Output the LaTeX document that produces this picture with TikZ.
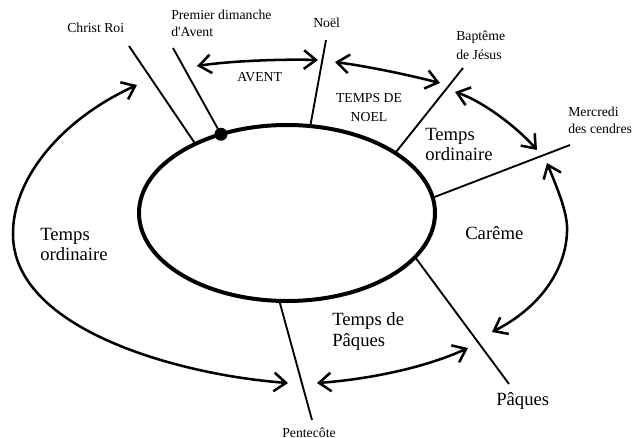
\documentclass[tikz,border=0pt]{standalone}
\usepackage{fontspec}
\setmainfont{Liberation Serif}
\usetikzlibrary{arrows.meta}
\usetikzlibrary{shapes.geometric}

\tikzset{
  borne/.style={line width=1.4pt},
  fleche/.style={line width=1.9pt, {Straight Barb[length=9pt,width=14pt]}-{Straight Barb[length=9pt,width=14pt]}},
  petit/.style={font=\fontsize{10.3}{12.75}\selectfont},
  grand/.style={font=\fontsize{14}{15.3}\selectfont}
}

\begin{document}
\begin{tikzpicture}[x=0.75pt,y=0.75pt,yscale=-1,xscale=1]
\useasboundingbox (0,0) rectangle (634,438);

%Shape: Ellipse
\node [draw, ellipse, line width=3pt, minimum width=222pt, minimum height=132pt, inner sep=0pt, outer sep=0pt] (annee) at (287,213) {};

%Free ends of the boundaries
\coordinate (christ-b) at (129,46);
\coordinate (avent-b) at (173,48);
\coordinate (noel-b) at (326,40);
\coordinate (bapteme-b) at (463,68);
\coordinate (cendres-b) at (570,145);
\coordinate (paques-b) at (509,384);
\coordinate (pentecote-b) at (312,420);

%Straight Lines
\draw [borne] (annee.143) -- (christ-b) ;
\draw [borne] (annee.130) -- (avent-b) ;
\draw [borne] (annee.75) -- (noel-b) ;
\draw [borne] (annee.29) -- (bapteme-b) ;
\draw [borne] (annee.6) -- (cendres-b) ;
\draw [borne] (annee.-19) -- (paques-b) ;
\draw [borne] (annee.-95) -- (pentecote-b) ;
%Shape: Circle
\fill (annee.130) circle [radius=6.5] ;

%Arrow ends
\coordinate (avent-g) at (197,66);
\coordinate (avent-d) at (318,60);
\coordinate (noel-g) at (335,62);
\coordinate (noel-d) at (440,83);
\coordinate (ordi-h) at (455,92);
\coordinate (ordi-b) at (537,150);
\coordinate (careme-h) at (547,163);
\coordinate (careme-b) at (492,332);
\coordinate (pq-g) at (317,383);
\coordinate (pq-d) at (468,348);
\coordinate (ordi2-h) at (137,85);
\coordinate (ordi2-b) at (288,383);

%Curve Lines
\draw [fleche] (avent-g) .. controls (230,61) and (280,59) .. (avent-d) ;
\draw [fleche] (noel-g) .. controls (365,66) and (405,74) .. (noel-d) ;
\draw [fleche] (ordi-h) .. controls (480,100) and (515,125) .. (ordi-b) ;
\draw [fleche] (careme-h) .. controls (560,195) and (568,215) .. (567,232) .. controls (566,265) and (545,305) .. (careme-b) ;
\draw [fleche] (pq-g) .. controls (360,380) and (420,370) .. (pq-d) ;
\draw [fleche] (ordi2-h) .. controls (60,120) and (12,180) .. (13,235) .. controls (14,330) and (180,375) .. (ordi2-b) ;

% Text Node
\draw (67,33) node [anchor=base west][inner sep=0pt][petit] (christ) {Christ Roi};
% Text Node
\draw (171,9.5) node [anchor=north west][inner sep=0pt][petit, align=left] (avent) {Premier dimanche\\d\textquotesingle Avent};
% Text Node
\draw (313,28) node [anchor=base west][inner sep=0pt][petit] (noel) {Noël};
% Text Node
\draw (456,31) node [anchor=north west][inner sep=0pt][petit, align=left, font=\fontsize{10.3}{14.25}\selectfont] (bapteme) {Baptême\\de Jésus};
% Text Node
\draw (568,107) node [anchor=north west][inner sep=0pt][petit, align=left] (cendres) {Mercredi\\des cendres};
% Text Node
\draw (237,82) node [anchor=base west][inner sep=0pt][petit] (tavent) {AVENT};
% Text Node
\draw (369,93.2) node [anchor=north][inner sep=0pt][petit, align=center, font=\fontsize{10.3}{14.25}\selectfont] (tnoel) {TEMPS DE\\NOEL};
% Text Node
\draw (425,128) node [anchor=north west][inner sep=0pt][grand, align=left] (tordi) {Temps\\ordinaire};
% Text Node
\draw (465,239) node [anchor=base west][inner sep=0pt][grand] (tcareme) {Carême};
% Text Node
\draw (332,312.4) node [anchor=north west][inner sep=0pt][grand, align=left] (tpaques) {Temps de\\Pâques};
% Text Node
\draw (40,228) node [anchor=north west][inner sep=0pt][grand, align=left] (tordi2) {Temps\\ordinaire};
% Text Node
\draw (496,405) node [anchor=base west][inner sep=0pt][grand] (paques) {Pâques};
% Text Node
\draw (282,437) node [anchor=base west][inner sep=0pt][petit] (pentecote) {Pentecôte};

\end{tikzpicture}
\end{document}
